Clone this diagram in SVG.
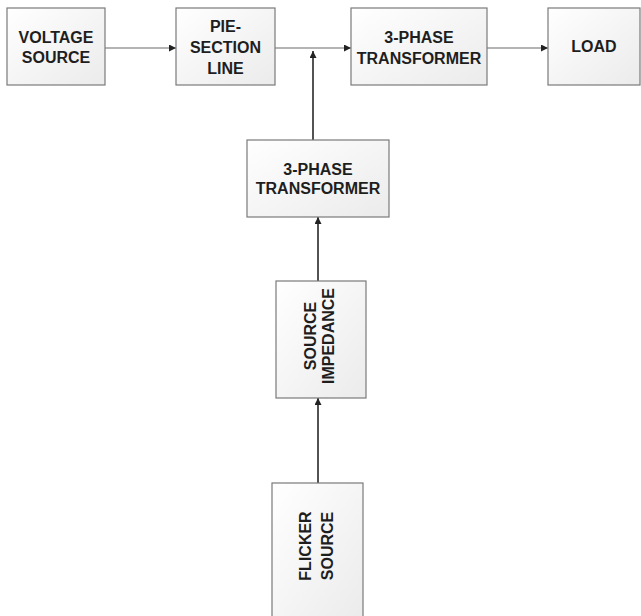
<svg xmlns="http://www.w3.org/2000/svg" width="641" height="616" viewBox="0 0 641 616">
<defs>
<linearGradient id="g" x1="0" y1="0" x2="1" y2="1">
<stop offset="0" stop-color="#ffffff"/>
<stop offset="1" stop-color="#ebebeb"/>
</linearGradient>
<marker id="ah" viewBox="0 0 10 10" refX="10" refY="5" markerWidth="7" markerHeight="7" markerUnits="userSpaceOnUse" orient="auto">
<path d="M0,0 L10,5 L0,10 z" fill="#222"/>
</marker>
<style>
.box{fill:url(#g);stroke:#7a7a7a;stroke-width:1.2}
.t{font-family:"Liberation Sans",Arial,sans-serif;font-size:16px;font-weight:bold;fill:#1e1e1e;text-anchor:middle}
.h{stroke:#6a6a6a;stroke-width:1.2;fill:none}
.v{stroke:#1a1a1a;stroke-width:1.5;fill:none}
</style>
</defs>
<rect width="641" height="616" fill="#ffffff"/>
<g id="connectors">
<line class="h" x1="105" y1="48" x2="176" y2="48" marker-end="url(#ah)"/>
<line class="h" x1="275" y1="48" x2="351" y2="48" marker-end="url(#ah)"/>
<line class="h" x1="487" y1="48" x2="548" y2="48" marker-end="url(#ah)"/>
<line class="v" x1="313" y1="140" x2="313" y2="51" marker-end="url(#ah)"/>
<line class="v" x1="318" y1="281" x2="318" y2="217" marker-end="url(#ah)"/>
<line class="v" x1="318" y1="483" x2="318" y2="398" marker-end="url(#ah)"/>
</g>
<g id="voltage-source">
<rect class="box" x="7" y="8" width="98" height="77"/>
<text class="t" x="56" y="43">VOLTAGE</text>
<text class="t" x="56" y="63">SOURCE</text>
</g>
<g id="pie-section-line">
<rect class="box" x="176" y="8" width="99" height="77"/>
<text class="t" x="225.5" y="32">PIE-</text>
<text class="t" x="225.5" y="53">SECTION</text>
<text class="t" x="225.5" y="74">LINE</text>
</g>
<g id="transformer-top">
<rect class="box" x="351" y="8" width="136" height="77"/>
<text class="t" x="419" y="43">3-PHASE</text>
<text class="t" x="419" y="64">TRANSFORMER</text>
</g>
<g id="load">
<rect class="box" x="548" y="8" width="92" height="77"/>
<text class="t" x="594" y="52">LOAD</text>
</g>
<g id="transformer-mid">
<rect class="box" x="247" y="140" width="142" height="77"/>
<text class="t" x="318" y="175">3-PHASE</text>
<text class="t" x="318" y="194">TRANSFORMER</text>
</g>
<g id="source-impedance">
<rect class="box" x="276" y="281" width="90" height="117"/>
<text class="t" transform="translate(316,336) rotate(-90)" x="0" y="0">SOURCE</text>
<text class="t" transform="translate(334,336) rotate(-90)" x="0" y="0">IMPEDANCE</text>
</g>
<g id="flicker-source">
<rect class="box" x="272" y="483" width="91" height="140"/>
<text class="t" transform="translate(311,546) rotate(-90)" x="0" y="0">FLICKER</text>
<text class="t" transform="translate(333,546) rotate(-90)" x="0" y="0">SOURCE</text>
</g>
</svg>
